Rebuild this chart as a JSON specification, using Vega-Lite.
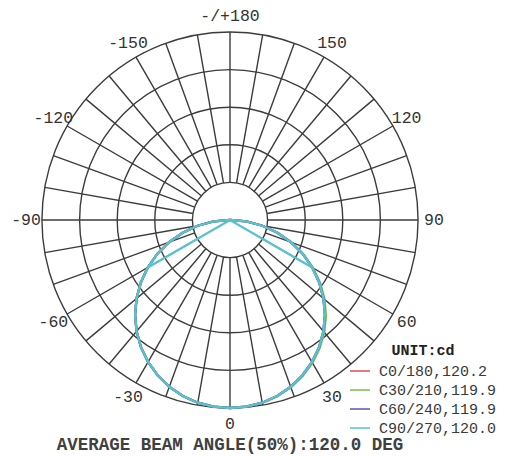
{
  "$schema": "https://vega.github.io/schema/vega-lite/v6.json",
  "width": 376,
  "height": 376,
  "autosize": {"type": "none"},
  "padding": {"left": 42, "top": 32, "right": 88, "bottom": 48},
  "background": "white",
  "config": {"view": {"stroke": null}},
  "title": {
    "text": "AVERAGE BEAM ANGLE(50%):120.0 DEG",
    "orient": "bottom",
    "frame": "group",
    "anchor": "middle",
    "offset": 0,
    "font": "Liberation Mono",
    "fontSize": 17.5,
    "fontWeight": "bold",
    "color": "#404040"
  },
  "datasets": {
    "rings": [{"r": 20}, {"r": 40}, {"r": 60}, {"r": 80}, {"r": 100}],
    "spokes": [
      {"a": -170}, {"a": -160}, {"a": -150}, {"a": -140}, {"a": -130}, {"a": -120},
      {"a": -110}, {"a": -100}, {"a": -90}, {"a": -80}, {"a": -70}, {"a": -60},
      {"a": -50}, {"a": -40}, {"a": -30}, {"a": -20}, {"a": -10}, {"a": 0},
      {"a": 10}, {"a": 20}, {"a": 30}, {"a": 40}, {"a": 50}, {"a": 60},
      {"a": 70}, {"a": 80}, {"a": 90}, {"a": 100}, {"a": 110}, {"a": 120},
      {"a": 130}, {"a": 140}, {"a": 150}, {"a": 160}, {"a": 170}, {"a": 180}
    ],
    "labels": [
      {"a": 180, "label": "-/+180"},
      {"a": 150, "label": "150"},
      {"a": 120, "label": "120"},
      {"a": 90, "label": "90"},
      {"a": 60, "label": "60"},
      {"a": 30, "label": "30"},
      {"a": 0, "label": "0"},
      {"a": -30, "label": "-30"},
      {"a": -60, "label": "-60"},
      {"a": -90, "label": "-90"},
      {"a": -120, "label": "-120"},
      {"a": -150, "label": "-150"}
    ],
    "curves": [
      {"series": "C0/180,120.2", "part": "circle", "gamma": -90, "cd": 0},
      {"series": "C0/180,120.2", "part": "circle", "gamma": -85, "cd": 8.8},
      {"series": "C0/180,120.2", "part": "circle", "gamma": -80, "cd": 17.5},
      {"series": "C0/180,120.2", "part": "circle", "gamma": -75, "cd": 26.1},
      {"series": "C0/180,120.2", "part": "circle", "gamma": -70, "cd": 34.5},
      {"series": "C0/180,120.2", "part": "circle", "gamma": -65, "cd": 42.7},
      {"series": "C0/180,120.2", "part": "circle", "gamma": -60, "cd": 50.5},
      {"series": "C0/180,120.2", "part": "circle", "gamma": -55, "cd": 57.9},
      {"series": "C0/180,120.2", "part": "circle", "gamma": -50, "cd": 64.9},
      {"series": "C0/180,120.2", "part": "circle", "gamma": -45, "cd": 71.4},
      {"series": "C0/180,120.2", "part": "circle", "gamma": -40, "cd": 77.3},
      {"series": "C0/180,120.2", "part": "circle", "gamma": -35, "cd": 82.6},
      {"series": "C0/180,120.2", "part": "circle", "gamma": -30, "cd": 87.2},
      {"series": "C0/180,120.2", "part": "circle", "gamma": -25, "cd": 91.1},
      {"series": "C0/180,120.2", "part": "circle", "gamma": -20, "cd": 94.4},
      {"series": "C0/180,120.2", "part": "circle", "gamma": -15, "cd": 96.9},
      {"series": "C0/180,120.2", "part": "circle", "gamma": -10, "cd": 98.7},
      {"series": "C0/180,120.2", "part": "circle", "gamma": -5, "cd": 99.7},
      {"series": "C0/180,120.2", "part": "circle", "gamma": 0, "cd": 100},
      {"series": "C0/180,120.2", "part": "circle", "gamma": 5, "cd": 99.7},
      {"series": "C0/180,120.2", "part": "circle", "gamma": 10, "cd": 98.7},
      {"series": "C0/180,120.2", "part": "circle", "gamma": 15, "cd": 96.9},
      {"series": "C0/180,120.2", "part": "circle", "gamma": 20, "cd": 94.4},
      {"series": "C0/180,120.2", "part": "circle", "gamma": 25, "cd": 91.1},
      {"series": "C0/180,120.2", "part": "circle", "gamma": 30, "cd": 87.2},
      {"series": "C0/180,120.2", "part": "circle", "gamma": 35, "cd": 82.6},
      {"series": "C0/180,120.2", "part": "circle", "gamma": 40, "cd": 77.3},
      {"series": "C0/180,120.2", "part": "circle", "gamma": 45, "cd": 71.4},
      {"series": "C0/180,120.2", "part": "circle", "gamma": 50, "cd": 64.9},
      {"series": "C0/180,120.2", "part": "circle", "gamma": 55, "cd": 57.9},
      {"series": "C0/180,120.2", "part": "circle", "gamma": 60, "cd": 50.5},
      {"series": "C0/180,120.2", "part": "circle", "gamma": 65, "cd": 42.7},
      {"series": "C0/180,120.2", "part": "circle", "gamma": 70, "cd": 34.5},
      {"series": "C0/180,120.2", "part": "circle", "gamma": 75, "cd": 26.1},
      {"series": "C0/180,120.2", "part": "circle", "gamma": 80, "cd": 17.5},
      {"series": "C0/180,120.2", "part": "circle", "gamma": 85, "cd": 8.8},
      {"series": "C0/180,120.2", "part": "circle", "gamma": 90, "cd": 0},
      {"series": "C30/210,119.9", "part": "circle", "gamma": -90, "cd": 0},
      {"series": "C30/210,119.9", "part": "circle", "gamma": -85, "cd": 8.8},
      {"series": "C30/210,119.9", "part": "circle", "gamma": -80, "cd": 17.5},
      {"series": "C30/210,119.9", "part": "circle", "gamma": -75, "cd": 26.1},
      {"series": "C30/210,119.9", "part": "circle", "gamma": -70, "cd": 34.5},
      {"series": "C30/210,119.9", "part": "circle", "gamma": -65, "cd": 42.7},
      {"series": "C30/210,119.9", "part": "circle", "gamma": -60, "cd": 50.5},
      {"series": "C30/210,119.9", "part": "circle", "gamma": -55, "cd": 57.9},
      {"series": "C30/210,119.9", "part": "circle", "gamma": -50, "cd": 64.9},
      {"series": "C30/210,119.9", "part": "circle", "gamma": -45, "cd": 71.4},
      {"series": "C30/210,119.9", "part": "circle", "gamma": -40, "cd": 77.3},
      {"series": "C30/210,119.9", "part": "circle", "gamma": -35, "cd": 82.6},
      {"series": "C30/210,119.9", "part": "circle", "gamma": -30, "cd": 87.2},
      {"series": "C30/210,119.9", "part": "circle", "gamma": -25, "cd": 91.1},
      {"series": "C30/210,119.9", "part": "circle", "gamma": -20, "cd": 94.4},
      {"series": "C30/210,119.9", "part": "circle", "gamma": -15, "cd": 96.9},
      {"series": "C30/210,119.9", "part": "circle", "gamma": -10, "cd": 98.7},
      {"series": "C30/210,119.9", "part": "circle", "gamma": -5, "cd": 99.7},
      {"series": "C30/210,119.9", "part": "circle", "gamma": 0, "cd": 100},
      {"series": "C30/210,119.9", "part": "circle", "gamma": 5, "cd": 99.7},
      {"series": "C30/210,119.9", "part": "circle", "gamma": 10, "cd": 98.8},
      {"series": "C30/210,119.9", "part": "circle", "gamma": 15, "cd": 97.1},
      {"series": "C30/210,119.9", "part": "circle", "gamma": 20, "cd": 94.7},
      {"series": "C30/210,119.9", "part": "circle", "gamma": 25, "cd": 91.5},
      {"series": "C30/210,119.9", "part": "circle", "gamma": 30, "cd": 87.7},
      {"series": "C30/210,119.9", "part": "circle", "gamma": 35, "cd": 83.2},
      {"series": "C30/210,119.9", "part": "circle", "gamma": 40, "cd": 78.0},
      {"series": "C30/210,119.9", "part": "circle", "gamma": 45, "cd": 72.2},
      {"series": "C30/210,119.9", "part": "circle", "gamma": 50, "cd": 65.7},
      {"series": "C30/210,119.9", "part": "circle", "gamma": 55, "cd": 58.6},
      {"series": "C30/210,119.9", "part": "circle", "gamma": 60, "cd": 51.1},
      {"series": "C30/210,119.9", "part": "circle", "gamma": 65, "cd": 43.1},
      {"series": "C30/210,119.9", "part": "circle", "gamma": 70, "cd": 34.8},
      {"series": "C30/210,119.9", "part": "circle", "gamma": 75, "cd": 26.3},
      {"series": "C30/210,119.9", "part": "circle", "gamma": 80, "cd": 17.6},
      {"series": "C30/210,119.9", "part": "circle", "gamma": 85, "cd": 8.8},
      {"series": "C30/210,119.9", "part": "circle", "gamma": 90, "cd": 0},
      {"series": "C60/240,119.9", "part": "circle", "gamma": -90, "cd": 0},
      {"series": "C60/240,119.9", "part": "circle", "gamma": -85, "cd": 8.8},
      {"series": "C60/240,119.9", "part": "circle", "gamma": -80, "cd": 17.5},
      {"series": "C60/240,119.9", "part": "circle", "gamma": -75, "cd": 26.1},
      {"series": "C60/240,119.9", "part": "circle", "gamma": -70, "cd": 34.5},
      {"series": "C60/240,119.9", "part": "circle", "gamma": -65, "cd": 42.7},
      {"series": "C60/240,119.9", "part": "circle", "gamma": -60, "cd": 50.5},
      {"series": "C60/240,119.9", "part": "circle", "gamma": -55, "cd": 57.9},
      {"series": "C60/240,119.9", "part": "circle", "gamma": -50, "cd": 64.9},
      {"series": "C60/240,119.9", "part": "circle", "gamma": -45, "cd": 71.4},
      {"series": "C60/240,119.9", "part": "circle", "gamma": -40, "cd": 77.3},
      {"series": "C60/240,119.9", "part": "circle", "gamma": -35, "cd": 82.6},
      {"series": "C60/240,119.9", "part": "circle", "gamma": -30, "cd": 87.2},
      {"series": "C60/240,119.9", "part": "circle", "gamma": -25, "cd": 91.1},
      {"series": "C60/240,119.9", "part": "circle", "gamma": -20, "cd": 94.4},
      {"series": "C60/240,119.9", "part": "circle", "gamma": -15, "cd": 96.9},
      {"series": "C60/240,119.9", "part": "circle", "gamma": -10, "cd": 98.7},
      {"series": "C60/240,119.9", "part": "circle", "gamma": -5, "cd": 99.7},
      {"series": "C60/240,119.9", "part": "circle", "gamma": 0, "cd": 100},
      {"series": "C60/240,119.9", "part": "circle", "gamma": 5, "cd": 99.7},
      {"series": "C60/240,119.9", "part": "circle", "gamma": 10, "cd": 98.7},
      {"series": "C60/240,119.9", "part": "circle", "gamma": 15, "cd": 96.9},
      {"series": "C60/240,119.9", "part": "circle", "gamma": 20, "cd": 94.4},
      {"series": "C60/240,119.9", "part": "circle", "gamma": 25, "cd": 91.1},
      {"series": "C60/240,119.9", "part": "circle", "gamma": 30, "cd": 87.2},
      {"series": "C60/240,119.9", "part": "circle", "gamma": 35, "cd": 82.6},
      {"series": "C60/240,119.9", "part": "circle", "gamma": 40, "cd": 77.3},
      {"series": "C60/240,119.9", "part": "circle", "gamma": 45, "cd": 71.4},
      {"series": "C60/240,119.9", "part": "circle", "gamma": 50, "cd": 64.9},
      {"series": "C60/240,119.9", "part": "circle", "gamma": 55, "cd": 57.9},
      {"series": "C60/240,119.9", "part": "circle", "gamma": 60, "cd": 50.5},
      {"series": "C60/240,119.9", "part": "circle", "gamma": 65, "cd": 42.7},
      {"series": "C60/240,119.9", "part": "circle", "gamma": 70, "cd": 34.5},
      {"series": "C60/240,119.9", "part": "circle", "gamma": 75, "cd": 26.1},
      {"series": "C60/240,119.9", "part": "circle", "gamma": 80, "cd": 17.5},
      {"series": "C60/240,119.9", "part": "circle", "gamma": 85, "cd": 8.8},
      {"series": "C60/240,119.9", "part": "circle", "gamma": 90, "cd": 0},
      {"series": "C90/270,120.0", "part": "circle", "gamma": -90, "cd": 0},
      {"series": "C90/270,120.0", "part": "circle", "gamma": -85, "cd": 8.8},
      {"series": "C90/270,120.0", "part": "circle", "gamma": -80, "cd": 17.5},
      {"series": "C90/270,120.0", "part": "circle", "gamma": -75, "cd": 26.1},
      {"series": "C90/270,120.0", "part": "circle", "gamma": -70, "cd": 34.5},
      {"series": "C90/270,120.0", "part": "circle", "gamma": -65, "cd": 42.7},
      {"series": "C90/270,120.0", "part": "circle", "gamma": -60, "cd": 50.5},
      {"series": "C90/270,120.0", "part": "circle", "gamma": -55, "cd": 57.9},
      {"series": "C90/270,120.0", "part": "circle", "gamma": -50, "cd": 64.9},
      {"series": "C90/270,120.0", "part": "circle", "gamma": -45, "cd": 71.4},
      {"series": "C90/270,120.0", "part": "circle", "gamma": -40, "cd": 77.3},
      {"series": "C90/270,120.0", "part": "circle", "gamma": -35, "cd": 82.6},
      {"series": "C90/270,120.0", "part": "circle", "gamma": -30, "cd": 87.2},
      {"series": "C90/270,120.0", "part": "circle", "gamma": -25, "cd": 91.1},
      {"series": "C90/270,120.0", "part": "circle", "gamma": -20, "cd": 94.4},
      {"series": "C90/270,120.0", "part": "circle", "gamma": -15, "cd": 96.9},
      {"series": "C90/270,120.0", "part": "circle", "gamma": -10, "cd": 98.7},
      {"series": "C90/270,120.0", "part": "circle", "gamma": -5, "cd": 99.7},
      {"series": "C90/270,120.0", "part": "circle", "gamma": 0, "cd": 100},
      {"series": "C90/270,120.0", "part": "circle", "gamma": 5, "cd": 99.7},
      {"series": "C90/270,120.0", "part": "circle", "gamma": 10, "cd": 98.7},
      {"series": "C90/270,120.0", "part": "circle", "gamma": 15, "cd": 96.9},
      {"series": "C90/270,120.0", "part": "circle", "gamma": 20, "cd": 94.4},
      {"series": "C90/270,120.0", "part": "circle", "gamma": 25, "cd": 91.1},
      {"series": "C90/270,120.0", "part": "circle", "gamma": 30, "cd": 87.2},
      {"series": "C90/270,120.0", "part": "circle", "gamma": 35, "cd": 82.6},
      {"series": "C90/270,120.0", "part": "circle", "gamma": 40, "cd": 77.3},
      {"series": "C90/270,120.0", "part": "circle", "gamma": 45, "cd": 71.4},
      {"series": "C90/270,120.0", "part": "circle", "gamma": 50, "cd": 64.9},
      {"series": "C90/270,120.0", "part": "circle", "gamma": 55, "cd": 57.9},
      {"series": "C90/270,120.0", "part": "circle", "gamma": 60, "cd": 50.5},
      {"series": "C90/270,120.0", "part": "circle", "gamma": 65, "cd": 42.7},
      {"series": "C90/270,120.0", "part": "circle", "gamma": 70, "cd": 34.5},
      {"series": "C90/270,120.0", "part": "circle", "gamma": 75, "cd": 26.1},
      {"series": "C90/270,120.0", "part": "circle", "gamma": 80, "cd": 17.5},
      {"series": "C90/270,120.0", "part": "circle", "gamma": 85, "cd": 8.8},
      {"series": "C90/270,120.0", "part": "circle", "gamma": 90, "cd": 0},
      {"series": "C90/270,120.0", "part": "ray", "gamma": -60, "cd": 50.5},
      {"series": "C90/270,120.0", "part": "ray", "gamma": 0, "cd": 0},
      {"series": "C90/270,120.0", "part": "ray", "gamma": 60, "cd": 50.5}
    ]
  },
  "layer": [
    {
      "data": {"name": "rings"},
      "mark": {"type": "arc", "filled": false, "fill": null, "stroke": "#3c3c3c", "strokeWidth": 1.4, "theta": 6.2832},
      "encoding": {
        "radius": {"field": "r", "type": "quantitative", "stack": null, "scale": {"type": "linear", "domain": [0, 100], "range": [0, {"expr": "width/2"}], "zero": true}}
      }
    },
    {
      "data": {"name": "spokes"},
      "transform": [
        {"calculate": "20*sin(PI*datum.a/180)", "as": "x1"},
        {"calculate": "-20*cos(PI*datum.a/180)", "as": "y1"},
        {"calculate": "100*sin(PI*datum.a/180)", "as": "x2"},
        {"calculate": "-100*cos(PI*datum.a/180)", "as": "y2"}
      ],
      "mark": {"type": "rule", "stroke": "#3c3c3c", "strokeWidth": 1.4},
      "encoding": {
        "x": {"field": "x1", "type": "quantitative", "scale": {"domain": [-100, 100], "nice": false, "zero": false}, "axis": null},
        "y": {"field": "y1", "type": "quantitative", "scale": {"domain": [-100, 100], "nice": false, "zero": false}, "axis": null},
        "x2": {"field": "x2"},
        "y2": {"field": "y2"}
      }
    },
    {
      "mark": {"type": "rule", "stroke": "#111", "strokeWidth": 1.5},
      "encoding": {
        "x": {"datum": -100, "type": "quantitative"},
        "x2": {"datum": 100},
        "y": {"datum": 0, "type": "quantitative"}
      }
    },
    {
      "mark": {"type": "rule", "stroke": "#111", "strokeWidth": 1.5},
      "encoding": {
        "y": {"datum": -100, "type": "quantitative"},
        "y2": {"datum": 100},
        "x": {"datum": 0, "type": "quantitative"}
      }
    },
    {
      "data": {"name": "curves"},
      "transform": [
        {"calculate": "datum.cd*sin(PI*datum.gamma/180)", "as": "px"},
        {"calculate": "-datum.cd*cos(PI*datum.gamma/180)", "as": "py"}
      ],
      "mark": {"type": "line", "strokeWidth": 2.3},
      "encoding": {
        "x": {"field": "px", "type": "quantitative"},
        "y": {"field": "py", "type": "quantitative"},
        "order": {"field": "gamma", "type": "quantitative"},
        "detail": {"field": "part"},
        "color": {
          "field": "series",
          "type": "nominal",
          "scale": {
            "domain": ["C0/180,120.2", "C30/210,119.9", "C60/240,119.9", "C90/270,120.0"],
            "range": ["#e8474b", "#7cbd4a", "#5a55b5", "#58c3d0"]
          },
          "legend": {
            "title": "UNIT:cd",
            "orient": "none",
            "legendX": 307,
            "legendY": 311,
            "titleFont": "Liberation Mono",
            "titleFontSize": 15,
            "titleFontWeight": "bold",
            "titleColor": "#222",
            "titleAnchor": "middle",
            "titlePadding": 2,
            "labelFont": "Liberation Mono",
            "labelFontSize": 15,
            "labelColor": "#3a3a3a",
            "labelOffset": 8,
            "symbolType": "stroke",
            "symbolSize": 400,
            "symbolStrokeWidth": 1.5,
            "rowPadding": 0,
            "padding": 0
          }
        }
      }
    },
    {
      "data": {"name": "labels"},
      "transform": [
        {"calculate": "108.5*sin(PI*datum.a/180)", "as": "lx"},
        {"calculate": "-108.5*cos(PI*datum.a/180)", "as": "ly"}
      ],
      "mark": {"type": "text", "font": "Liberation Mono", "fontSize": 16.5, "color": "#333", "align": "center", "baseline": "middle"},
      "encoding": {
        "x": {"field": "lx", "type": "quantitative"},
        "y": {"field": "ly", "type": "quantitative"},
        "text": {"field": "label"}
      }
    }
  ]
}
